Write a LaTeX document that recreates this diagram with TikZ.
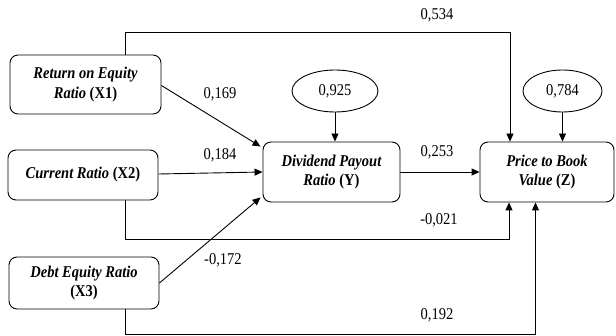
\documentclass[tikz,border=0pt]{standalone}
\usepackage{fontspec}
\setmainfont[FakeStretch=0.88]{Liberation Serif}
\usetikzlibrary{arrows.meta,calc,shapes.geometric}
\begin{document}
\begin{tikzpicture}[x=1pt,y=1pt,
  box/.style={draw,rounded corners=8pt,line width=0.9pt,align=center,inner sep=0pt,
    font=\fontsize{16.5}{19.5}\selectfont\bfseries\itshape},
  oval/.style={draw,ellipse,line width=0.9pt,inner sep=0pt,minimum height=42pt,font=\fontsize{16.5}{19}\selectfont},
  arr/.style={line width=0.9pt,-{Triangle[length=8pt,width=7pt]}},
  lbl/.style={font=\fontsize{16.5}{19}\selectfont,inner sep=0pt}]
\useasboundingbox (0,0) rectangle (616,335);
\node[box,minimum width=151pt,minimum height=59pt] (X1) at (85.5,250.5) {Return on Equity\\Ratio \textup{(X1)}};
\node[box,minimum width=150pt,minimum height=50pt] (X2) at (83,160) {Current Ratio \textup{(X2)}};
\node[box,minimum width=150pt,minimum height=52pt] (X3) at (84,52) {Debt Equity Ratio\\\textup{(X3)}};
\node[box,minimum width=137pt,minimum height=60pt] (Y) at (331.5,163) {Dividend Payout\\Ratio \textup{(Y)}};
\node[box,minimum width=134pt,minimum height=60pt] (Z) at (547,163) {Price to Book\\Value \textup{(Z)}};
\node[oval,minimum width=86pt] (E1) at (335,244) {0,925};
\node[oval,minimum width=79pt] (E2) at (562.5,244) {0,784};

\draw[arr] ([xshift=39.5pt]X1.north) -- ++(0,22.5) -| ([xshift=-37pt]Z.north);
\draw[arr] (E1.south) -- (E1.south |- Y.north);
\draw[arr] (E2.south) -- (E2.south |- Z.north);
\draw[arr] ([yshift=-1pt]X1.east) -- ($(Y.north west)+(-2,-5)$);
\draw[arr] ([yshift=1pt]X2.east) -- (Y.west);
\draw[arr] (X3.east) -- ($(Y.south west)+(-2,5)$);
\draw[arr] (Y.east) -- (Z.west);
\draw[arr] ([xshift=42pt]X2.south) -- ++(0,-39) -| ([xshift=-38pt]Z.south);
\draw[arr] ([xshift=41pt]X3.south) -- ++(0,-25) -| ([xshift=-11.5pt]Z.south);

\node[lbl] (l534) at (437,320) {0,534};
\node[lbl] (l169) at (220,241) {0,169};
\node[lbl] (l184) at (220,180) {0,184};
\node[lbl] (l172) at (223,75) {-0,172};
\node[lbl] (l253) at (437,183) {0,253};
\node[lbl] (l021) at (439,115) {-0,021};
\node[lbl] (l192) at (437,20) {0,192};
\end{tikzpicture}
\end{document}
